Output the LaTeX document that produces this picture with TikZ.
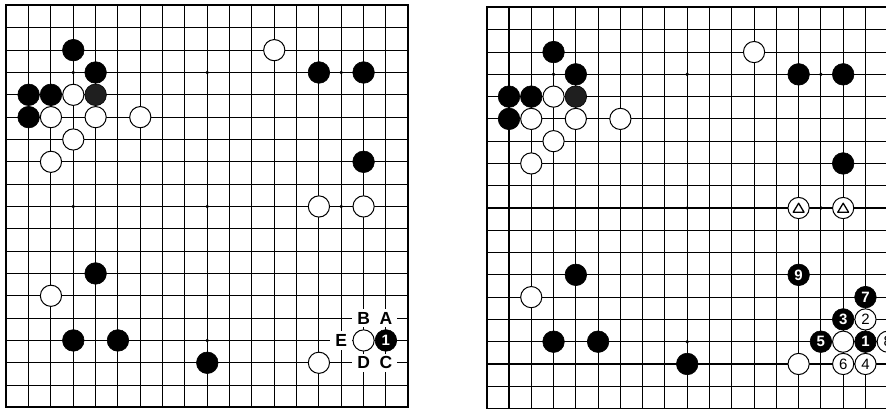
\documentclass[tikz,border=0pt]{standalone}
\usepackage{fontspec}
\setmainfont{Liberation Sans}
\tikzset{
 gridline/.style={line width=1.05pt, black},
 edgeline/.style={line width=2pt, black},
 bst/.style={circle, fill=black, draw=black, line width=0.6pt, minimum size=21.6pt, inner sep=0pt},
 wst/.style={circle, fill=white, draw=black, line width=1pt, minimum size=21.2pt, inner sep=0pt},
 bnum/.style={bst, text=white, font=\bfseries\fontsize{15}{15}\selectfont},
 wnum/.style={wst, font=\fontsize{15}{15}\selectfont},
 lbl/.style={fill=white, inner sep=0pt, minimum width=22.4pt, minimum height=18.5pt, font=\bfseries\fontsize{17.5}{17.5}\selectfont},
 star/.style={circle, fill=black, inner sep=0pt, minimum size=3.8pt},
 trimark/.style={line width=1.3pt, line join=round}
}
\newcommand\goboardbase[1]{%
  \foreach \i in {1,...,17} {\draw[gridline] (\i,0) -- (\i,18); \draw[gridline] (0,\i) -- (18,\i);}
  \draw[edgeline] (0,0) rectangle (18,18);
  \foreach \a in {3,9,15} {\foreach \b in {3,9,15} {\node[star] (#1s\a-\b) at (\a,\b) {};}}
  \foreach \c/\r in {3/2,4/3,1/4,2/4,1/5,14/3,16/3,16/7,4/12,3/15,5/15,9/16} {\node[bst] (#1b\c-\r) at (\c,\r) {};}
  \node[bst, fill=black!88] (#1b4-4) at (4,4) {};
  \foreach \c/\r in {12/2,3/4,2/5,4/5,6/5,3/6,2/7,2/13,14/16,16/15} {\node[wst] (#1w\c-\r) at (\c,\r) {};}
}
\newcommand\trimarkon[1]{%
  \draw[trimark] ([yshift=4.8pt]#1.center) -- ([xshift=-5.4pt,yshift=-4.2pt]#1.center) -- ([xshift=5.4pt,yshift=-4.2pt]#1.center) -- cycle;
}
\begin{document}
\begin{tikzpicture}[x=1pt,y=1pt]
\useasboundingbox (0,0) rectangle (886,409);
\clip (0,0) rectangle (886,409);
% left board
\begin{scope}[shift={(6.3pt,403.5pt)}, x=22.33pt, y=-22.33pt]
  \goboardbase{L}
  \node[wst] (Lw14-9) at (14,9) {};
  \node[wst] (Lw16-9) at (16,9) {};
  \node[bnum] (Lb17-15) at (17,15) {1};
  \node[lbl] (LA) at (17,14) {A};
  \node[lbl] (LB) at (16,14) {B};
  \node[lbl] (LC) at (17,16) {C};
  \node[lbl] (LD) at (16,16) {D};
  \node[lbl] (LE) at (15,15) {E};
\end{scope}
% right board
\begin{scope}[shift={(486.7pt,401.5pt)}, x=22.28pt, y=-22.28pt]
  \goboardbase{R}
  \node[wst] (Rw14-9) at (14,9) {};
  \node[wst] (Rw16-9) at (16,9) {};
  \trimarkon{Rw14-9}
  \trimarkon{Rw16-9}
  \node[bnum] (Rb17-15) at (17,15) {1};
  \node[wnum] (Rw17-14) at (17,14) {2};
  \node[bnum] (Rb16-14) at (16,14) {3};
  \node[wnum] (Rw17-16) at (17,16) {4};
  \node[bnum] (Rb15-15) at (15,15) {5};
  \node[wnum] (Rw16-16) at (16,16) {6};
  \node[bnum] (Rb17-13) at (17,13) {7};
  \node[wnum] (Rw18-15) at (18,15) {8};
  \node[bnum] (Rb14-12) at (14,12) {9};
\end{scope}
\end{tikzpicture}
\end{document}
